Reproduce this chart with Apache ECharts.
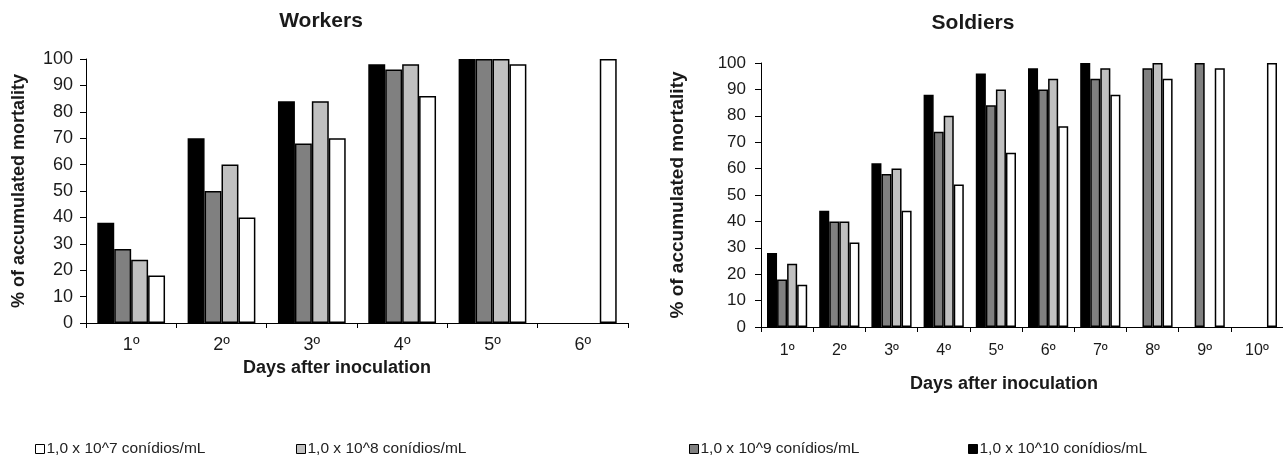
<!DOCTYPE html>
<html>
<head>
<meta charset="utf-8">
<script src="https://cdn.jsdelivr.net/npm/echarts@6/dist/echarts.min.js"></script>
<style>
  html, body { margin: 0; padding: 0; background: #fff; }
  #chart { width: 1283px; height: 467px; }
</style>
</head>
<body>
<div id="chart"></div>
<script>
// legend names, low to high concentration
const doses = [
  '1,0 x 10^7 conídios/mL',
  '1,0 x 10^8 conídios/mL',
  '1,0 x 10^9 conídios/mL',
  '1,0 x 10^10 conídios/mL'
]

const workerDays = ['1º', '2º', '3º', '4º', '5º', '6º']
const soldierDays = ['1º', '2º', '3º', '4º', '5º', '6º', '7º', '8º', '9º', '10º']

// % of accumulated mortality, workers
const workers7 = [18, 40, 70, 86, 98, 100]
const workers8 = [24, 60, 84, 98, 100, null]
const workers9 = [28, 50, 68, 96, 100, null]
const workers10 = [38, 70, 84, 98, 100, null]

// % of accumulated mortality, soldiers
const soldiers7 = [16, 32, 44, 54, 66, 76, 88, 94, 98, 100]
const soldiers8 = [24, 40, 60, 80, 90, 94, 98, 100, null, null]
const soldiers9 = [18, 40, 58, 74, 84, 90, 94, 98, 100, null]
const soldiers10 = [28, 44, 62, 88, 96, 98, 100, null, null, null]

const yTicks = [0, 10, 20, 30, 40, 50, 60, 70, 80, 90, 100]

const colors = {}
colors[doses[0]] = '#ffffff'
colors[doses[1]] = '#c0c0c0'
colors[doses[2]] = '#808080'
colors[doses[3]] = '#000000'

const textColor = '#1a1a1a'
const font = 'Liberation Sans, Arial, sans-serif'

function barSeries(name, data, axisIndex, gap) {
  return {
    name: name,
    type: 'bar',
    xAxisIndex: axisIndex,
    yAxisIndex: axisIndex,
    data: data,
    barGap: '0%',
    barCategoryGap: gap,
    animation: false,
    itemStyle: {
      color: colors[name],
      borderColor: '#000',
      borderWidth: 1.5
    }
  }
}

function legendAt(name, left) {
  return {
    data: [name],
    left: left,
    top: 441,
    icon: 'rect',
    itemWidth: 9,
    itemHeight: 9,
    itemGap: 0,
    padding: 0,
    itemStyle: { borderColor: '#000', borderWidth: 1 },
    textStyle: { fontFamily: font, fontSize: 15.5, color: '#222', padding: [0, 0, 0, -3] }
  }
}

function xAxis(days, gridIndex, labelSize, labelMargin, nameGap, nameShift) {
  return {
    type: 'category',
    gridIndex: gridIndex,
    data: days,
    name: 'Days after inoculation',
    nameLocation: 'middle',
    nameGap: nameGap,
    nameTextStyle: {
      fontFamily: font,
      fontSize: 18,
      fontWeight: 'bold',
      color: textColor,
      padding: [0, nameShift, 0, 0]
    },
    axisLine: { lineStyle: { color: '#000', width: 1 } },
    axisTick: { show: true, length: 5, lineStyle: { color: '#000' } },
    axisLabel: { fontFamily: font, fontSize: labelSize, color: textColor, margin: labelMargin }
  }
}

function yAxis(gridIndex, labelSize, labelMargin, nameSize, nameGap) {
  return {
    type: 'value',
    gridIndex: gridIndex,
    min: yTicks[0],
    max: yTicks[yTicks.length - 1],
    interval: 10,
    name: '% of accumulated mortality',
    nameLocation: 'middle',
    nameGap: nameGap,
    nameTextStyle: { fontFamily: font, fontSize: nameSize, fontWeight: 'bold', color: textColor },
    splitLine: { show: false },
    axisLine: { show: true, lineStyle: { color: '#000', width: 1 } },
    axisTick: { show: true, length: 6, lineStyle: { color: '#000' } },
    axisLabel: { fontFamily: font, fontSize: labelSize, color: textColor, margin: labelMargin }
  }
}

const chart = echarts.init(document.getElementById('chart'), null, { renderer: 'canvas' })

chart.setOption({
  backgroundColor: '#fff',
  title: [
    {
      text: 'Workers',
      left: 316,
      top: 6,
      textAlign: 'center',
      textStyle: { fontFamily: font, fontSize: 21, fontWeight: 'bold', color: textColor }
    },
    {
      text: 'Soldiers',
      left: 968,
      top: 8,
      textAlign: 'center',
      textStyle: { fontFamily: font, fontSize: 21, fontWeight: 'bold', color: textColor }
    }
  ],
  legend: [
    legendAt(doses[0], 35),
    legendAt(doses[1], 296),
    legendAt(doses[2], 689),
    legendAt(doses[3], 968)
  ],
  grid: [
    { left: 86, top: 59, width: 542, height: 264 },
    { left: 761, top: 63, width: 522, height: 264 }
  ],
  xAxis: [
    xAxis(workerDays, 0, 18, 13, 35, 40),
    xAxis(soldierDays, 1, 16, 16, 48, 36)
  ],
  yAxis: [
    yAxis(0, 18, 13, 18, 58),
    yAxis(1, 17, 15, 19, 74)
  ],
  series: [
    barSeries(doses[3], workers10, 0, '25%'),
    barSeries(doses[2], workers9, 0, '25%'),
    barSeries(doses[1], workers8, 0, '25%'),
    barSeries(doses[0], workers7, 0, '25%'),
    barSeries(doses[3], soldiers10, 1, '23%'),
    barSeries(doses[2], soldiers9, 1, '23%'),
    barSeries(doses[1], soldiers8, 1, '23%'),
    barSeries(doses[0], soldiers7, 1, '23%')
  ]
})
</script>
</body>
</html>
